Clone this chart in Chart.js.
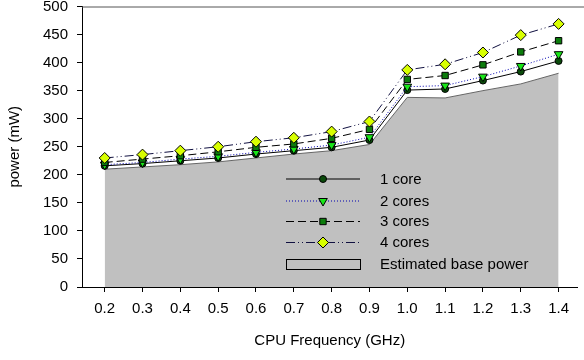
<!DOCTYPE html>
<html>
<head>
<meta charset="utf-8">
<script src="https://cdn.jsdelivr.net/npm/chart.js@4/dist/chart.umd.min.js"></script>
<style>
  html, body { margin: 0; padding: 0; background: #fff; }
  #wrap { width: 584px; height: 360px; }
</style>
</head>
<body>
<div id="wrap"><canvas id="chart" width="584" height="360"></canvas></div>
<script>
// data
const freqs = [0.2, 0.3, 0.4, 0.5, 0.6, 0.7, 0.8, 0.9, 1.0, 1.1, 1.2, 1.3, 1.4];
const core1 = [216, 220, 225, 230, 237, 243, 249, 262, 351, 353, 368, 384, 403];
const core2 = [218, 222, 228, 233, 240, 246, 253, 267, 357, 359, 375, 394, 415];
const core3 = [222, 228, 234, 241, 249, 255, 265, 281, 370, 377, 396, 419, 439];
const core4 = [230, 236, 243, 250, 259, 266, 277, 295, 387, 397, 418, 449, 469];
const basePower = [210, 214, 218, 223, 230, 237, 243, 254, 338, 337, 350, 362, 381];
const yTicks = [0, 50, 100, 150, 200, 250, 300, 350, 400, 450, 500];

const FONT = "Arial, 'Liberation Sans', sans-serif";
const FSIZE = 15;

function pts(vals) {
  return freqs.map((f, i) => ({ x: f, y: vals[i] }));
}

// series look, used for both lines and legend
const seriesStyle = [
  { label: "1 core", data: core1, color: "#000", dash: [], point: "circle", r: 3.5, pbg: "#0a4a0a", rot: 0 },
  { label: "2 cores", data: core2, color: "#0000b0", dash: [1, 2], point: "triangle", r: 5, pbg: "#19e619", rot: 180 },
  { label: "3 cores", data: core3, color: "#000", dash: [8, 4], point: "rect", r: 4.5, pbg: "#0c7c0c", rot: 0 },
  { label: "4 cores", data: core4, color: "#101040", dash: [9, 3, 1, 3, 1, 3], point: "rectRot", r: 5.5, pbg: "#d8ff00", rot: 0 },
];

const lineSets = seriesStyle.map((s, i) => ({
  label: s.label,
  data: pts(s.data),
  borderColor: s.color,
  borderWidth: 1,
  borderDash: s.dash,
  pointStyle: s.point,
  pointRadius: s.r,
  pointRotation: s.rot,
  pointBackgroundColor: s.pbg,
  pointBorderColor: "#000",
  pointBorderWidth: 1,
  fill: false,
  tension: 0,
  order: 4 - i,
}));

// legend drawn inside the plot, like the original
const insideLegend = {
  id: "insideLegend",
  afterDatasetsDraw(chart) {
    const ctx = chart.ctx;
    const x0 = 286, x1 = 360, xm = 323, tx = 380;
    const rows = [178.5, 200.5, 221, 242];
    ctx.save();
    ctx.font = FSIZE + "px " + FONT;
    ctx.textBaseline = "middle";
    ctx.fillStyle = "#000";
    seriesStyle.forEach((s, i) => {
      const y = rows[i];
      ctx.strokeStyle = s.color;
      ctx.lineWidth = 1;
      ctx.setLineDash(s.dash);
      ctx.beginPath();
      ctx.moveTo(x0, y + 0.5);
      ctx.lineTo(x1, y + 0.5);
      ctx.stroke();
      ctx.setLineDash([]);
      ctx.fillStyle = s.pbg;
      ctx.strokeStyle = "#000";
      Chart.helpers.drawPoint(ctx, { pointStyle: s.point, radius: s.r, rotation: s.rot, borderWidth: 1 }, xm, y + 0.5);
      ctx.fillStyle = "#000";
      ctx.fillText(s.label, tx, y + 1);
    });
    ctx.fillStyle = "#c0c0c0";
    ctx.fillRect(286.5, 259.5, 74, 10);
    ctx.strokeStyle = "#000";
    ctx.lineWidth = 1;
    ctx.strokeRect(286.5, 259.5, 74, 10);
    ctx.fillStyle = "#000";
    ctx.fillText("Estimated base power", tx, 264.5);
    ctx.restore();
  },
  afterDraw(chart) {
    const ctx = chart.ctx;
    const a = chart.chartArea;
    ctx.save();
    ctx.strokeStyle = "#555";
    ctx.lineWidth = 1;
    ctx.beginPath();
    ctx.moveTo(a.left, a.top + 0.5);
    ctx.lineTo(chart.width, a.top + 0.5);
    ctx.stroke();
    ctx.restore();
  },
};

new Chart(document.getElementById("chart"), {
  type: "line",
  data: {
    datasets: [
      ...lineSets,
      {
        label: "Estimated base power",
        data: pts(basePower),
        borderColor: "#666",
        borderWidth: 1,
        backgroundColor: "#c0c0c0",
        pointRadius: 0,
        fill: "origin",
        tension: 0,
        order: 10,
      },
    ],
  },
  options: {
    responsive: false,
    animation: false,
    layout: { padding: { top: 5, right: 0, left: 0, bottom: 0 } },
    plugins: { legend: { display: false }, tooltip: { enabled: false } },
    scales: {
      x: {
        type: "linear",
        min: 0.14,
        max: 1.45,
        afterBuildTicks: (axis) => { axis.ticks = freqs.map((v) => ({ value: v })); },
        ticks: {
          color: "#000",
          font: { family: FONT, size: FSIZE },
          padding: 8,
          maxRotation: 0,
          autoSkip: false,
          callback: (v) => Number(v).toFixed(1),
        },
        grid: { drawOnChartArea: false, tickLength: 5, color: "#000" },
        border: { color: "#000", width: 1 },
        title: {
          display: true,
          text: "CPU Frequency (GHz)",
          color: "#000",
          font: { family: FONT, size: FSIZE },
          padding: { top: 6, bottom: 10 },
        },
        afterFit: (axis) => { axis.height = 73; axis.paddingLeft = 0; axis.paddingRight = 0; },
      },
      y: {
        min: 0,
        max: 500,
        afterBuildTicks: (axis) => { axis.ticks = yTicks.map((v) => ({ value: v })); },
        ticks: { color: "#000", font: { family: FONT, size: FSIZE }, padding: 9 },
        grid: { drawOnChartArea: false, tickLength: 5, color: "#000" },
        border: { color: "#000", width: 1 },
        title: {
          display: true,
          text: "power (mW)",
          color: "#000",
          font: { family: FONT, size: FSIZE },
          padding: { top: 6, bottom: 4 },
        },
        afterFit: (axis) => { axis.width = 82; axis.paddingTop = 0; axis.paddingBottom = 0; },
      },
    },
  },
  plugins: [insideLegend],
});
</script>
</body>
</html>
